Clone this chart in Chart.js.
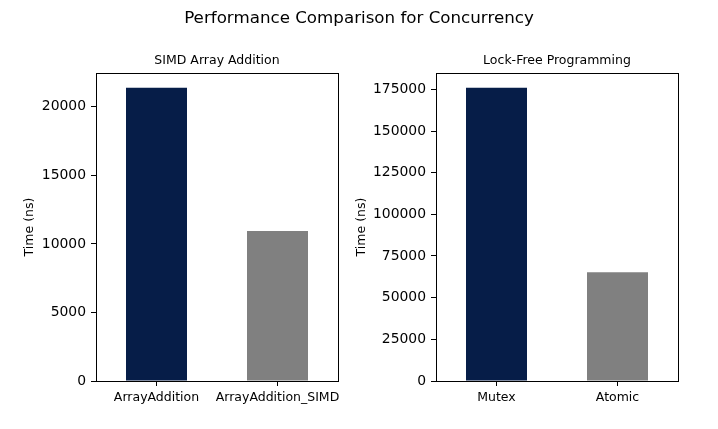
<!DOCTYPE html>
<html>
<head>
<meta charset="utf-8">
<script src="https://cdn.jsdelivr.net/npm/chart.js@4"></script>
<style>
  html, body { margin: 0; padding: 0; background: #fff; }
  #wrap { position: relative; width: 718px; height: 429px; overflow: hidden; }
  canvas { position: absolute; left: 0; top: 0; }
  #sup { position: absolute; left: 0; top: 6.7px; width: 718px; text-align: center;
         font-family: 'DejaVu Sans'; font-size: 16.7px; line-height: 20px; color: #000; }
</style>
</head>
<body>
<div id="wrap">
  <canvas id="c1" width="718" height="429"></canvas>
  <canvas id="c2" width="718" height="429"></canvas>
  <div id="sup">Performance Comparison for Concurrency</div>
</div>
<script>
const simdCategories = ['ArrayAddition', 'ArrayAddition_SIMD'];
const simdTimes = [21400, 10950];
const simdTicks = [0, 5000, 10000, 15000, 20000];

const lockCategories = ['Mutex', 'Atomic'];
const lockTimes = [176000, 65300];
const lockTicks = [0, 25000, 50000, 75000, 100000, 125000, 150000, 175000];

const barColors = ['#061d48', '#808080'];
const FONT = 'DejaVu Sans';

const frame = {
  id: 'frame',
  afterDatasetsDraw(chart) {
    const a = chart.chartArea, ctx = chart.ctx;
    const l = Math.round(a.left) + 0.5, r = Math.round(a.right) + 0.5;
    const t = Math.round(a.top) + 0.5, b = Math.round(a.bottom) + 0.5;
    ctx.save();
    ctx.strokeStyle = '#000';
    ctx.lineWidth = 1;
    ctx.strokeRect(l, t, r - l, b - t);
    ctx.restore();
  }
};

function makeChart(id, cats, vals, ticks, yMax, title, padL, padR, yWidth) {
  return new Chart(document.getElementById(id), {
    type: 'bar',
    data: {
      labels: cats,
      datasets: [{ data: vals, backgroundColor: barColors, borderWidth: 0,
                   inflateAmount: 0, barThickness: 61 }]
    },
    options: {
      responsive: false,
      animation: false,
      devicePixelRatio: 1,
      layout: { padding: { left: padL, right: padR, top: 0, bottom: 0 } },
      plugins: {
        legend: { display: false },
        tooltip: { enabled: false },
        title: {
          display: true, text: title, fullSize: false, color: '#000',
          font: { family: FONT, size: 12.5, weight: 'normal', lineHeight: 1.2 },
          padding: { top: 53.1, bottom: 4.9 }
        }
      },
      scales: {
        x: {
          type: 'category',
          offset: true,
          border: { display: false },
          grid: { display: true, drawOnChartArea: false, drawTicks: true, tickLength: 5,
                  color: '#000', offset: false, lineWidth: 1 },
          ticks: { color: '#000', padding: 4, maxRotation: 0, autoSkip: false,
                   font: { family: FONT, size: 12.5, lineHeight: 1.2 } },
          afterFit: s => { s.height = 48; }
        },
        y: {
          min: 0, max: yMax,
          border: { display: false },
          grid: { display: true, drawOnChartArea: false, drawTicks: true, tickLength: 5,
                  color: '#000', lineWidth: 1 },
          ticks: { color: '#000', padding: 5,
                   font: { family: FONT, size: 13.9, lineHeight: 1.2 },
                   callback: v => String(v) },
          afterBuildTicks: s => { s.ticks = ticks.map(v => ({ value: v })); },
          title: { display: true, text: 'Time (ns)', color: '#000',
                   font: { family: FONT, size: 12.5, lineHeight: 1.2 },
                   padding: { top: 22.1, bottom: 0 } },
          afterFit: s => { s.width = yWidth; }
        }
      }
    },
    plugins: [frame]
  });
}

makeChart('c1', simdCategories, simdTimes, simdTicks, 22470, 'SIMD Array Addition', 0, 380, 96);
makeChart('c2', lockCategories, lockTimes, lockTicks, 184800, 'Lock-Free Programming', 332.4, 40, 103.6);
</script>
</body>
</html>
